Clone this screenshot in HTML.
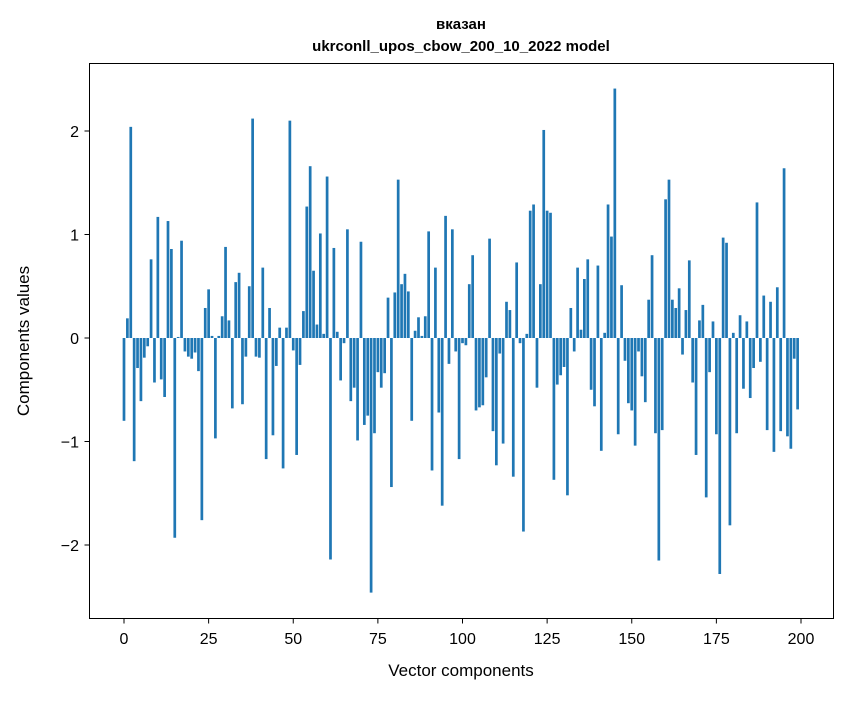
<!DOCTYPE html>
<html><head><meta charset="utf-8"><style>
body{margin:0;background:#fff}
svg text{font-family:"Liberation Sans","DejaVu Sans",sans-serif;fill:#000}
</style></head><body>
<svg id="chart" width="847" height="696" xmlns="http://www.w3.org/2000/svg">
<rect width="847" height="696" fill="#fff"/>
<text x="461" y="29" font-size="15" font-weight="bold" text-anchor="middle">вказан</text>
<text x="461" y="51" font-size="15" font-weight="bold" text-anchor="middle">ukrconll_upos_cbow_200_10_2022 model</text>
<g id="bars"></g>
<g id="xticks"></g>
<g id="yticks"></g>
<rect x="89.5" y="63.5" width="744" height="555" fill="none" stroke="#000" stroke-width="1"/>
<text x="461" y="676" font-size="17" text-anchor="middle">Vector components</text>
<text x="29" y="341" font-size="17" text-anchor="middle" transform="rotate(-90 29 341)">Components values</text>
</svg>
<script>
const values = [-0.80,0.19,2.04,-1.19,-0.29,-0.61,-0.19,-0.08,0.76,-0.43,
1.17,-0.40,-0.57,1.13,0.86,-1.93,0.01,0.94,-0.13,-0.18,
-0.20,-0.14,-0.32,-1.76,0.29,0.47,0.02,-0.97,0.02,0.21,
0.88,0.17,-0.68,0.54,0.63,-0.64,-0.18,0.50,2.12,-0.18,
-0.19,0.68,-1.17,0.29,-0.94,-0.27,0.10,-1.26,0.10,2.10,
-0.12,-1.13,-0.26,0.26,1.27,1.66,0.65,0.13,1.01,0.04,
1.56,-2.14,0.87,0.06,-0.41,-0.05,1.05,-0.61,-0.48,-0.99,
0.93,-0.84,-0.75,-2.46,-0.92,-0.33,-0.48,-0.34,0.39,-1.44,
0.44,1.53,0.52,0.62,0.45,-0.80,0.07,0.20,0.02,0.21,
1.03,-1.28,0.68,-0.72,-1.62,1.18,-0.25,1.05,-0.13,-1.17,
-0.05,-0.07,0.52,0.80,-0.70,-0.67,-0.65,-0.38,0.96,-0.90,
-1.23,-0.15,-1.02,0.35,0.27,-1.34,0.73,-0.05,-1.87,0.04,
1.23,1.29,-0.48,0.52,2.01,1.23,1.21,-1.37,-0.45,-0.36,
-0.28,-1.52,0.29,-0.13,0.68,0.08,0.57,0.76,-0.50,-0.66,
0.70,-1.09,0.05,1.29,0.98,2.41,-0.93,0.51,-0.22,-0.63,
-0.70,-1.04,-0.13,-0.37,-0.62,0.37,0.80,-0.92,-2.15,-0.89,
1.34,1.53,0.37,0.29,0.48,-0.16,0.27,0.75,-0.43,-1.13,
0.17,0.32,-1.54,-0.33,0.16,-0.93,-2.28,0.97,0.92,-1.81,
0.05,-0.92,0.22,-0.49,0.16,-0.58,-0.29,1.31,-0.23,0.41,
-0.89,0.35,-1.10,0.49,-0.90,1.64,-0.95,-1.07,-0.20,-0.69];
const xTicks = [0,25,50,75,100,125,150,175,200];
const yTicks = [-2,-1,0,1,2];
const yTickLabels = ["\u22122","\u22121","0","1","2"];

const NS="http://www.w3.org/2000/svg";
const xs = v => 124 + v*3.385;
const ys = v => 338 - v*103.5;
const bars=document.getElementById('bars');
values.forEach((v,i)=>{
  const r=document.createElementNS(NS,'rect');
  const y0=ys(0), y1=ys(v);
  r.setAttribute('x',xs(i-0.4));
  r.setAttribute('width',3.385*0.8);
  r.setAttribute('y',Math.min(y0,y1));
  r.setAttribute('height',Math.abs(y1-y0));
  r.setAttribute('fill','#1f77b4');
  
  
  bars.appendChild(r);
});
const xg=document.getElementById('xticks');
xTicks.forEach(t=>{
  const l=document.createElementNS(NS,'line');
  l.setAttribute('x1',xs(t));l.setAttribute('x2',xs(t));
  l.setAttribute('y1',618.5);l.setAttribute('y2',623.5);
  l.setAttribute('stroke','#000');
  
  
  xg.appendChild(l);
  const tx=document.createElementNS(NS,'text');
  tx.setAttribute('x',xs(t));tx.setAttribute('y',644);
  tx.setAttribute('font-size','16');tx.setAttribute('text-anchor','middle');
  tx.textContent=t;
  
  
  xg.appendChild(tx);
});
const yg=document.getElementById('yticks');
yTicks.forEach((t,i)=>{
  const l=document.createElementNS(NS,'line');
  l.setAttribute('x1',84.5);l.setAttribute('x2',89.5);
  l.setAttribute('y1',ys(t));l.setAttribute('y2',ys(t));
  l.setAttribute('stroke','#000');
  
  
  yg.appendChild(l);
  const tx=document.createElementNS(NS,'text');
  tx.setAttribute('x',79);tx.setAttribute('y',ys(t)+6);
  tx.setAttribute('font-size','16');tx.setAttribute('text-anchor','end');
  tx.textContent=yTickLabels[i];
  
  
  yg.appendChild(tx);
});
</script>
</body></html>
